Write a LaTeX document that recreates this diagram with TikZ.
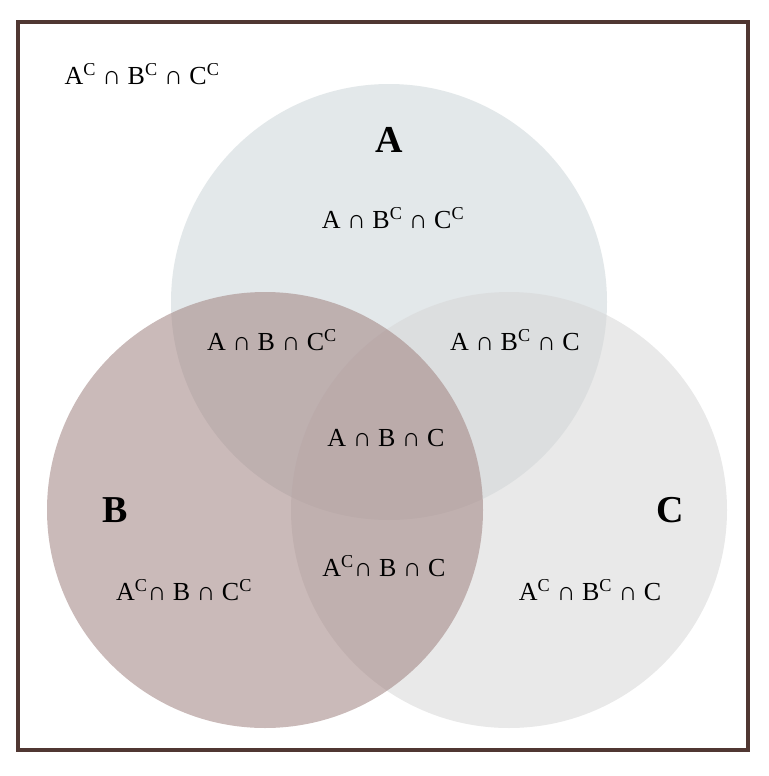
\documentclass[tikz,border=0pt]{standalone}
\usepackage{fontspec}
\setmainfont{Liberation Serif}
\usetikzlibrary{positioning}
\definecolor{frameBrown}{RGB}{80,55,50}
\definecolor{setA}{RGB}{205,214,217}
\definecolor{setB}{RGB}{160,130,128}
\definecolor{setC}{RGB}{215,215,215}
\newcommand{\cmp}{\textsuperscript{C}}
\tikzset{
    region/.style={font=\fontsize{26}{30}\selectfont, inner sep=0pt},
    setname/.style={font=\fontsize{38}{44}\selectfont\bfseries, inner sep=0pt},
    venn/.style={circle, minimum size=436pt, inner sep=0pt, fill opacity=0.55}
}
\begin{document}
\begin{tikzpicture}[x=1pt,y=-1pt]
    \useasboundingbox (0,0) rectangle (768,776);
    \fill[white] (0,0) rectangle (768,776);
    \node[venn, fill=setA] (A) at (389,302) {};
    \node[venn, fill=setC] (C) at (509,510) {};
    \node[venn, fill=setB] (B) at (265,510) {};
    \draw[frameBrown, line width=4pt] (18,22) rectangle (748,750);
    \node[region] (U) at (142,74) {A\cmp{} ∩ B\cmp{} ∩ C\cmp};
    \node[setname] (nA) at (389,140) {A};
    \node[setname] (nB) at (115,510) {B};
    \node[setname] (nC) at (670,510) {C};
    \node[region] (rA) at (393,218) {A ∩ B\cmp{} ∩ C\cmp};
    \node[region] (rAB) at (272,340) {A ∩ B ∩ C\cmp};
    \node[region] (rAC) at (515,340) {A ∩ B\cmp{} ∩ C};
    \node[region] (rABC) at (386,438) {A ∩ B ∩ C};
    \node[region] (rB) at (184,590) {A\cmp{}∩ B ∩ C\cmp};
    \node[region] (rBC) at (384,566) {A\cmp{}∩ B ∩ C};
    \node[region] (rC) at (590,590) {A\cmp{} ∩ B\cmp{} ∩ C};
\end{tikzpicture}
\end{document}
